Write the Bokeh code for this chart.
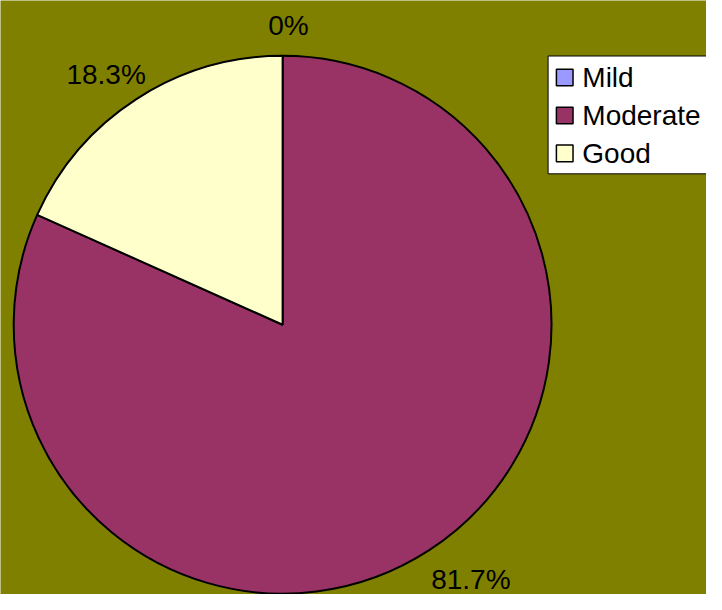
import math
from bokeh.plotting import figure
from bokeh.models import Range1d, ColumnDataSource
from bokeh.core.properties import value
from bokeh.embed import file_html
from bokeh.resources import INLINE

categories = ["Mild", "Moderate", "Good"]
percents = [0.0, 81.7, 18.3]
labels = ["0%", "81.7%", "18.3%"]
colors = ["#9999FF", "#993366", "#FFFFCC"]

BG = "#808000"
FONT = value("Liberation Sans")
FS = "28px"

W, H = 706, 594
# data space mirrors the 722x610 reference canvas
p = figure(width=W, height=H, output_backend="svg", toolbar_location=None,
           x_range=Range1d(0, 722), y_range=Range1d(0, 610),
           min_border=0)
p.axis.visible = False
p.grid.visible = False
p.outline_line_color = None
p.background_fill_color = BG
p.border_fill_color = BG

cx, cy, R = 288.5, 610 - 333, 275

total = sum(percents)
starts, ends, cols = [], [], []
lx, ly = [], []
cum = 0.0
for v, c in zip(percents, colors):
    a0 = math.pi / 2 - cum / total * 2 * math.pi
    a1 = math.pi / 2 - (cum + v) / total * 2 * math.pi
    mid = (a0 + a1) / 2
    if v > 0:
        starts.append(a0)
        ends.append(a1)
        cols.append(c)
    gap = 20
    lx.append(cx + (R + gap) * math.cos(mid) + 48 * math.cos(mid) + 6)
    ly.append(cy + (R + gap) * math.sin(mid) + 14 * math.sin(mid) - 2)
    cum += v

src = ColumnDataSource(dict(x=[cx] * len(starts), y=[cy] * len(starts),
                            start=starts, end=ends, color=cols))
p.wedge(x="x", y="y", radius=R, start_angle="start",
        end_angle="end", direction="clock", fill_color="color",
        line_color="black", line_width=2, source=src)

p.text(x=lx, y=ly, text=labels, text_font=FONT, text_font_size=FS,
       text_align="center", text_baseline="middle", text_color="black")

# legend
p.quad(left=[560], right=[740], top=[610 - 57], bottom=[610 - 178],
       fill_color="white", line_color="black", line_width=1)
row_y = [610 - (79 + i * 39) for i in range(len(categories))]
p.rect(x=[577] * len(categories), y=row_y, width=17, height=17,
       fill_color=colors, line_color="black", line_width=1.5)
p.text(x=[595] * len(categories), y=row_y, text=categories, text_font=FONT,
       text_font_size=FS, text_align="left", text_baseline="middle",
       text_color="black")

open("out.html", "w").write(file_html(p, INLINE))
